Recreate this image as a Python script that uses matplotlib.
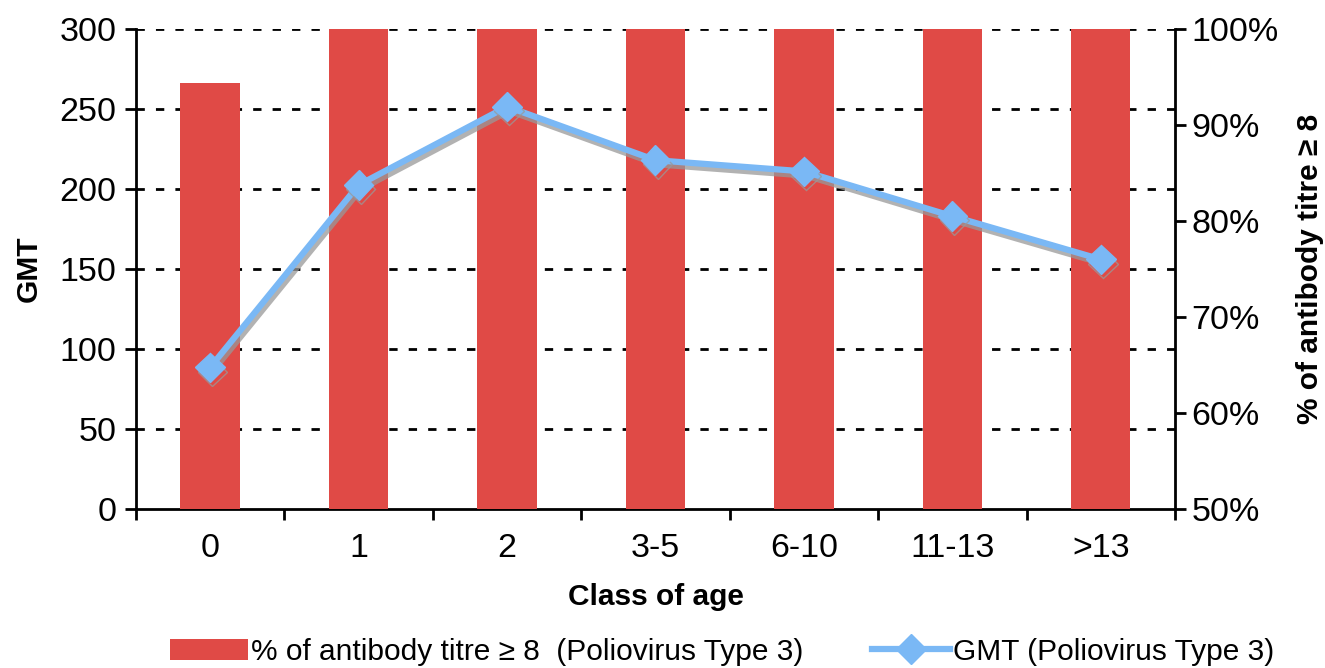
import numpy as np
import matplotlib
matplotlib.use("Agg")
from matplotlib import pyplot as plt
from matplotlib.lines import Line2D
import matplotlib.patheffects as pe

plt.rcParams['font.family'] = ['Liberation Sans', 'DejaVu Sans']

# data
age_classes = ['0', '1', '2', '3-5', '6-10', '11-13', '>13']
pct_titre = [94.4, 100, 100, 100, 100, 100, 100]   # % of antibody titre >= 8
gmt = [88.5, 202.5, 251.5, 218, 211, 183, 156]      # GMT

bar_color = '#E04A46'
line_color = '#7AB8F5'
tick_fs = 24.5
lab_fs = 21.5

fig = plt.figure(figsize=(13.25, 6.68), dpi=100)
ax = fig.add_subplot(111)
fig.subplots_adjust(left=0.1026, right=0.8868, top=0.9566, bottom=0.238)

x = np.arange(len(age_classes))

# left axis: GMT (gridlines live here, under the bars)
ax.set_ylim(0, 300)
ax.set_yticks(np.arange(0, 301, 50))
ax.set_xlim(-0.5, len(age_classes) - 0.5)
for yv in np.arange(50, 301, 50):
    ax.axhline(yv, color='black', lw=2, ls=(0, (3, 4)), zorder=0)

# right axis: percentage bars
ax2 = ax.twinx()
ax2.set_ylim(50, 100)
ax2.set_yticks(np.arange(50, 101, 10))
ax2.set_yticklabels(['{}%'.format(v) for v in range(50, 101, 10)])
bars = ax2.bar(x, [p - 50 for p in pct_titre], bottom=50, width=0.4,
               color=bar_color, zorder=2,
               label='% of antibody titre \u2265 8  (Poliovirus Type 3)')

# GMT line drawn on top, in left-axis units
ax2.plot(x, gmt, transform=ax.transData, color=line_color, lw=4.5,
         marker='D', markersize=15, zorder=3,
         path_effects=[pe.SimpleLineShadow(offset=(1.5, -3), shadow_color='#999999', alpha=0.75),
                       pe.Normal()])
line_handle = Line2D([], [], color=line_color, lw=4.5, marker='D', markersize=15,
                     label='GMT (Poliovirus Type 3)')

# x ticks: labels at centres, tick marks between categories
ax.set_xticks(x)
ax.set_xticklabels(age_classes)
ax.set_xticks(np.arange(-0.5, len(age_classes), 1), minor=True)
ax.tick_params(axis='x', which='major', length=0, labelsize=tick_fs, pad=17)
ax.tick_params(axis='x', which='minor', length=8, width=2, direction='out')
ax.tick_params(axis='y', length=8, width=2, labelsize=tick_fs, pad=6)
ax2.tick_params(axis='y', length=8, width=2, labelsize=tick_fs, pad=4)

for a in (ax, ax2):
    a.spines['top'].set_visible(False)
    for s in ('left', 'right', 'bottom'):
        a.spines[s].set_linewidth(2)
ax.spines['right'].set_visible(False)
ax2.spines['left'].set_visible(False)
ax2.spines['bottom'].set_visible(False)

ax.set_xlabel('Class of age', fontsize=lab_fs, fontweight='bold', labelpad=14)
ax.set_ylabel('GMT', fontsize=lab_fs, fontweight='bold', labelpad=12)
ax2.set_ylabel('% of antibody titre \u2265 8', fontsize=lab_fs, fontweight='bold', labelpad=12)

fig.legend(handles=[bars, line_handle], loc='lower center', bbox_to_anchor=(0.545, -0.037),
           ncol=2, frameon=False, fontsize=lab_fs, handlelength=2.6,
           handletextpad=0.1, columnspacing=2.3)

fig.savefig('out.png', dpi=100)
